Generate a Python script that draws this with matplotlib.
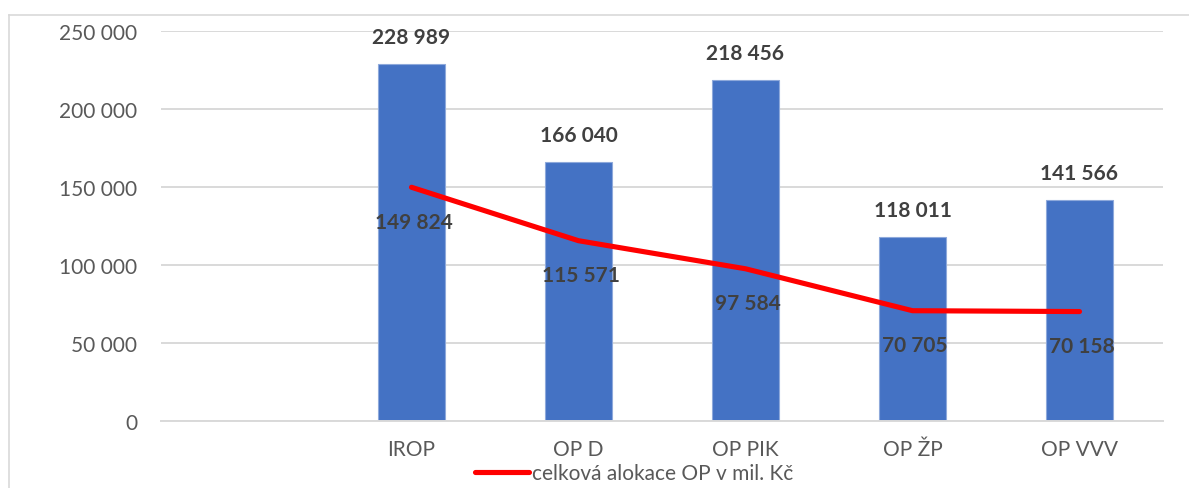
import matplotlib
matplotlib.use("Agg")
import matplotlib.pyplot as plt
from matplotlib.lines import Line2D
from matplotlib.ticker import FuncFormatter

# data (mil. Kč)
categories = ["", "IROP", "OP D", "OP PIK", "OP ŽP", "OP VVV"]
bar_values = [None, 228989, 166040, 218456, 118011, 141566]
line_values = [None, 149824, 115571, 97584, 70705, 70158]
line_label = "celková alokace OP v mil. Kč"


def fmt(v, pos=None):
    return f"{int(v):,}".replace(",", " ")


plt.rcParams["font.family"] = ["Lato", "DejaVu Sans"]

fig = plt.figure(figsize=(11.89, 4.89), dpi=100)
ax = fig.add_axes([161 / 1189, 67 / 489, 1002 / 1189, 390 / 489])

xs = list(range(len(categories)))
bx = [x for x, v in zip(xs, bar_values) if v is not None]
bv = [v for v in bar_values if v is not None]
lx = [x for x, v in zip(xs, line_values) if v is not None]
lv = [v for v in line_values if v is not None]

ax.bar(bx, bv, width=0.4, color="#4472C4", edgecolor="#8EA9DB", linewidth=0.8, zorder=2)
ax.plot(lx, lv, color="#FF0000", linewidth=3.7, solid_capstyle="round",
        solid_joinstyle="round", zorder=3, label=line_label)

for x, v in zip(bx, bv):
    ax.annotate(fmt(v), (x, v), xytext=(0, 19.5), textcoords="offset points",
                ha="center", va="center", fontsize=15, fontweight="bold",
                color="#404040", zorder=4)
for x, v in zip(lx, lv):
    ax.annotate(fmt(v), (x, v), xytext=(1.5, -25), textcoords="offset points",
                ha="center", va="center", fontsize=15, fontweight="bold",
                color="#404040", zorder=4)

ax.set_xlim(-0.5, len(categories) - 0.5)
ax.set_ylim(0, 250000)
ax.set_yticks(range(0, 250001, 50000))
ax.yaxis.set_major_formatter(FuncFormatter(fmt))
ax.set_xticks(xs)
ax.set_xticklabels(categories)
ax.tick_params(axis="y", length=0, pad=17, labelsize=15, labelcolor="#595959")
ax.tick_params(axis="x", length=0, pad=13, labelsize=15, labelcolor="#595959")

ax.grid(axis="y", color="#D9D9D9", linewidth=1.4, zorder=0)
ax.set_axisbelow(True)
for s in ["top", "right", "left"]:
    ax.spines[s].set_visible(False)
ax.spines["bottom"].set_color("#D9D9D9")
ax.spines["bottom"].set_linewidth(1.4)

leg = fig.legend(loc="center", bbox_to_anchor=(634 / 1189, 15 / 489), frameon=False,
                 fontsize=15, handlelength=2.6, handletextpad=0.15, borderpad=0)
for t in leg.get_texts():
    t.set_color("#595959")

# chart frame
fig.add_artist(Line2D([9 / 1189, 1.0], [1 - 16 / 489] * 2, color="#D9D9D9", linewidth=1.2))
fig.add_artist(Line2D([9 / 1189] * 2, [0, 1 - 16 / 489], color="#D9D9D9", linewidth=1.2))

fig.savefig("out.png", dpi=100)
plt.close(fig)
